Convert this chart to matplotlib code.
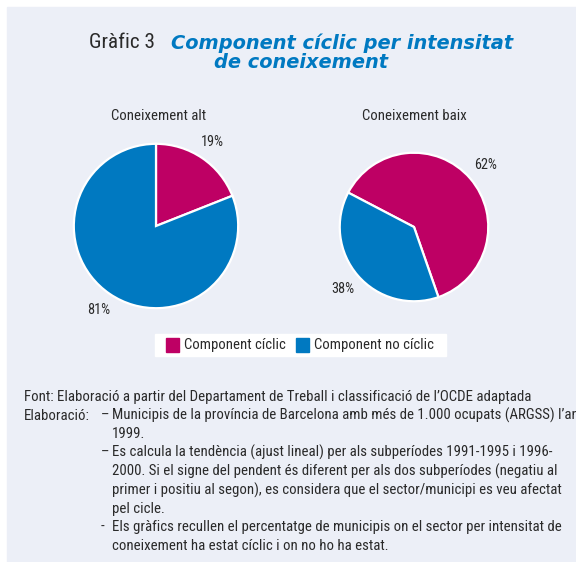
import matplotlib
matplotlib.use("Agg")
import matplotlib.pyplot as plt
from matplotlib import font_manager as fm
from matplotlib.patches import Rectangle

# chart data
panels = ["Coneixement alt", "Coneixement baix"]
series = ["Component cíclic", "Component no cíclic"]
alt_values = [19, 81]
baix_values = [62, 38]

title_prefix = "Gràfic 3"
title_lines = ["Component cíclic per intensitat", "de coneixement"]

source_line = "Font: Elaboració a partir del Departament de Treball i classificació de l’OCDE adaptada"
notes_label = "Elaboració:"
notes = [
    ("–", "Municipis de la província de Barcelona amb més de 1.000 ocupats (ARGSS) l’any"),
    ("", "1999."),
    ("–", "Es calcula la tendència (ajust lineal) per als subperíodes 1991-1995 i 1996-"),
    ("", "2000. Si el signe del pendent és diferent per als dos subperíodes (negatiu al"),
    ("", "primer i positiu al segon), es considera que el sector/municipi es veu afectat"),
    ("", "pel cicle."),
    ("-", "Els gràfics recullen el percentatge de municipis on el sector per intensitat de"),
    ("", "coneixement ha estat cíclic i on no ho ha estat."),
]

PINK = "#BE0064"
BLUE = "#0079C1"
BG = "#ECEFF7"
TXT = "#2A2A2A"

# pick a condensed face close to the original Frutiger Condensed look
available = {f.name for f in fm.fontManager.ttflist}
candidates = ["Liberation Sans Narrow", "Roboto Condensed", "Fira Sans Condensed",
              "PT Sans Narrow", "Archivo Narrow", "Open Sans Condensed",
              "Encode Sans Condensed", "Asap Condensed", "IBM Plex Sans Condensed"]
NARROW = next((c for c in candidates if c in available), "DejaVu Sans")
FAM = [NARROW, "DejaVu Sans"]

W, H = 576, 562
fig = plt.figure(figsize=(W / 100, H / 100), dpi=100)
renderer = fig.canvas.get_renderer()


def fit_size(s, target_px, **kw):
    # font size that makes string s about target_px wide
    t = fig.text(0, 0, s, fontsize=10, **kw)
    w = t.get_window_extent(renderer).width
    t.remove()
    return 10 * target_px / w


# background axes in pixel coordinates (y down)
bg = fig.add_axes([0, 0, 1, 1])
bg.set_xlim(0, W)
bg.set_ylim(H, 0)
bg.axis("off")
bg.add_patch(Rectangle((7, 7), W, H, color=BG, zorder=0))

# title
bg.text(89, 43, title_prefix, ha="left", va="center",
        fontsize=fit_size(title_prefix, 66, family=FAM), color=TXT, family=FAM)
bold_kw = dict(family="DejaVu Sans", weight="bold", style="oblique")
tsize = fit_size(title_lines[0], 342, **bold_kw)
bg.text(342, 43, title_lines[0], ha="center", va="center", fontsize=tsize,
        color=BLUE, **bold_kw)
bg.text(301, 63, title_lines[1], ha="center", va="center", fontsize=tsize,
        color=BLUE, **bold_kw)

label_size = fit_size(panels[0], 94, family=FAM)
pct_size = fit_size("19%", 23, family=FAM)


def pie_axes(cx, cy, r):
    ax = fig.add_axes([(cx - r) / W, (H - cy - r) / H, 2 * r / W, 2 * r / H])
    ax.axis("off")
    return ax


def draw_pie(ax, values, start, pctdist):
    ax.pie(values, colors=[PINK, BLUE], startangle=start, counterclock=False,
           radius=1, autopct="%1.0f%%", pctdistance=pctdist,
           wedgeprops=dict(edgecolor="white", linewidth=1.6),
           textprops=dict(color=TXT, fontsize=pct_size, family=FAM))
    ax.set_xlim(-1.01, 1.01)
    ax.set_ylim(-1.01, 1.01)
    ax.set_aspect("equal")


ax1 = pie_axes(156, 226, 83)
draw_pie(ax1, alt_values, 90, 1.23)
bg.text(159, 116, panels[0], ha="center", va="center", fontsize=label_size,
        color=TXT, family=FAM)

ax2 = pie_axes(414, 227, 75)
draw_pie(ax2, baix_values, 152.4, 1.27)
bg.text(414, 116, panels[1], ha="center", va="center", fontsize=label_size,
        color=TXT, family=FAM)

# legend
leg_size = fit_size(series[0], 101, family=FAM)
bg.add_patch(Rectangle((155, 334), 291, 22, color="white", zorder=1))
leg_x = [166, 296]
for x, name, col in zip(leg_x, series, [PINK, BLUE]):
    bg.add_patch(Rectangle((x, 338), 13, 14, color=col, zorder=2))
    bg.text(x + 18, 345, name, ha="left", va="center", fontsize=leg_size,
            color=TXT, family=FAM, zorder=3)

# footnotes
note_size = fit_size(source_line, 504, family=FAM)
bg.text(24, 397, source_line, ha="left", va="center", fontsize=note_size,
        color=TXT, family=FAM)
bg.text(24, 415.6, notes_label, ha="left", va="center", fontsize=note_size,
        color=TXT, family=FAM)
for i, (dash, line) in enumerate(notes):
    y = 415.6 + i * 18.6
    if dash:
        bg.text(101, y, dash, ha="left", va="center", fontsize=note_size,
                color=TXT, family=FAM)
    bg.text(112, y, line, ha="left", va="center", fontsize=note_size,
            color=TXT, family=FAM)

fig.savefig("out.png", dpi=100, facecolor="white")
